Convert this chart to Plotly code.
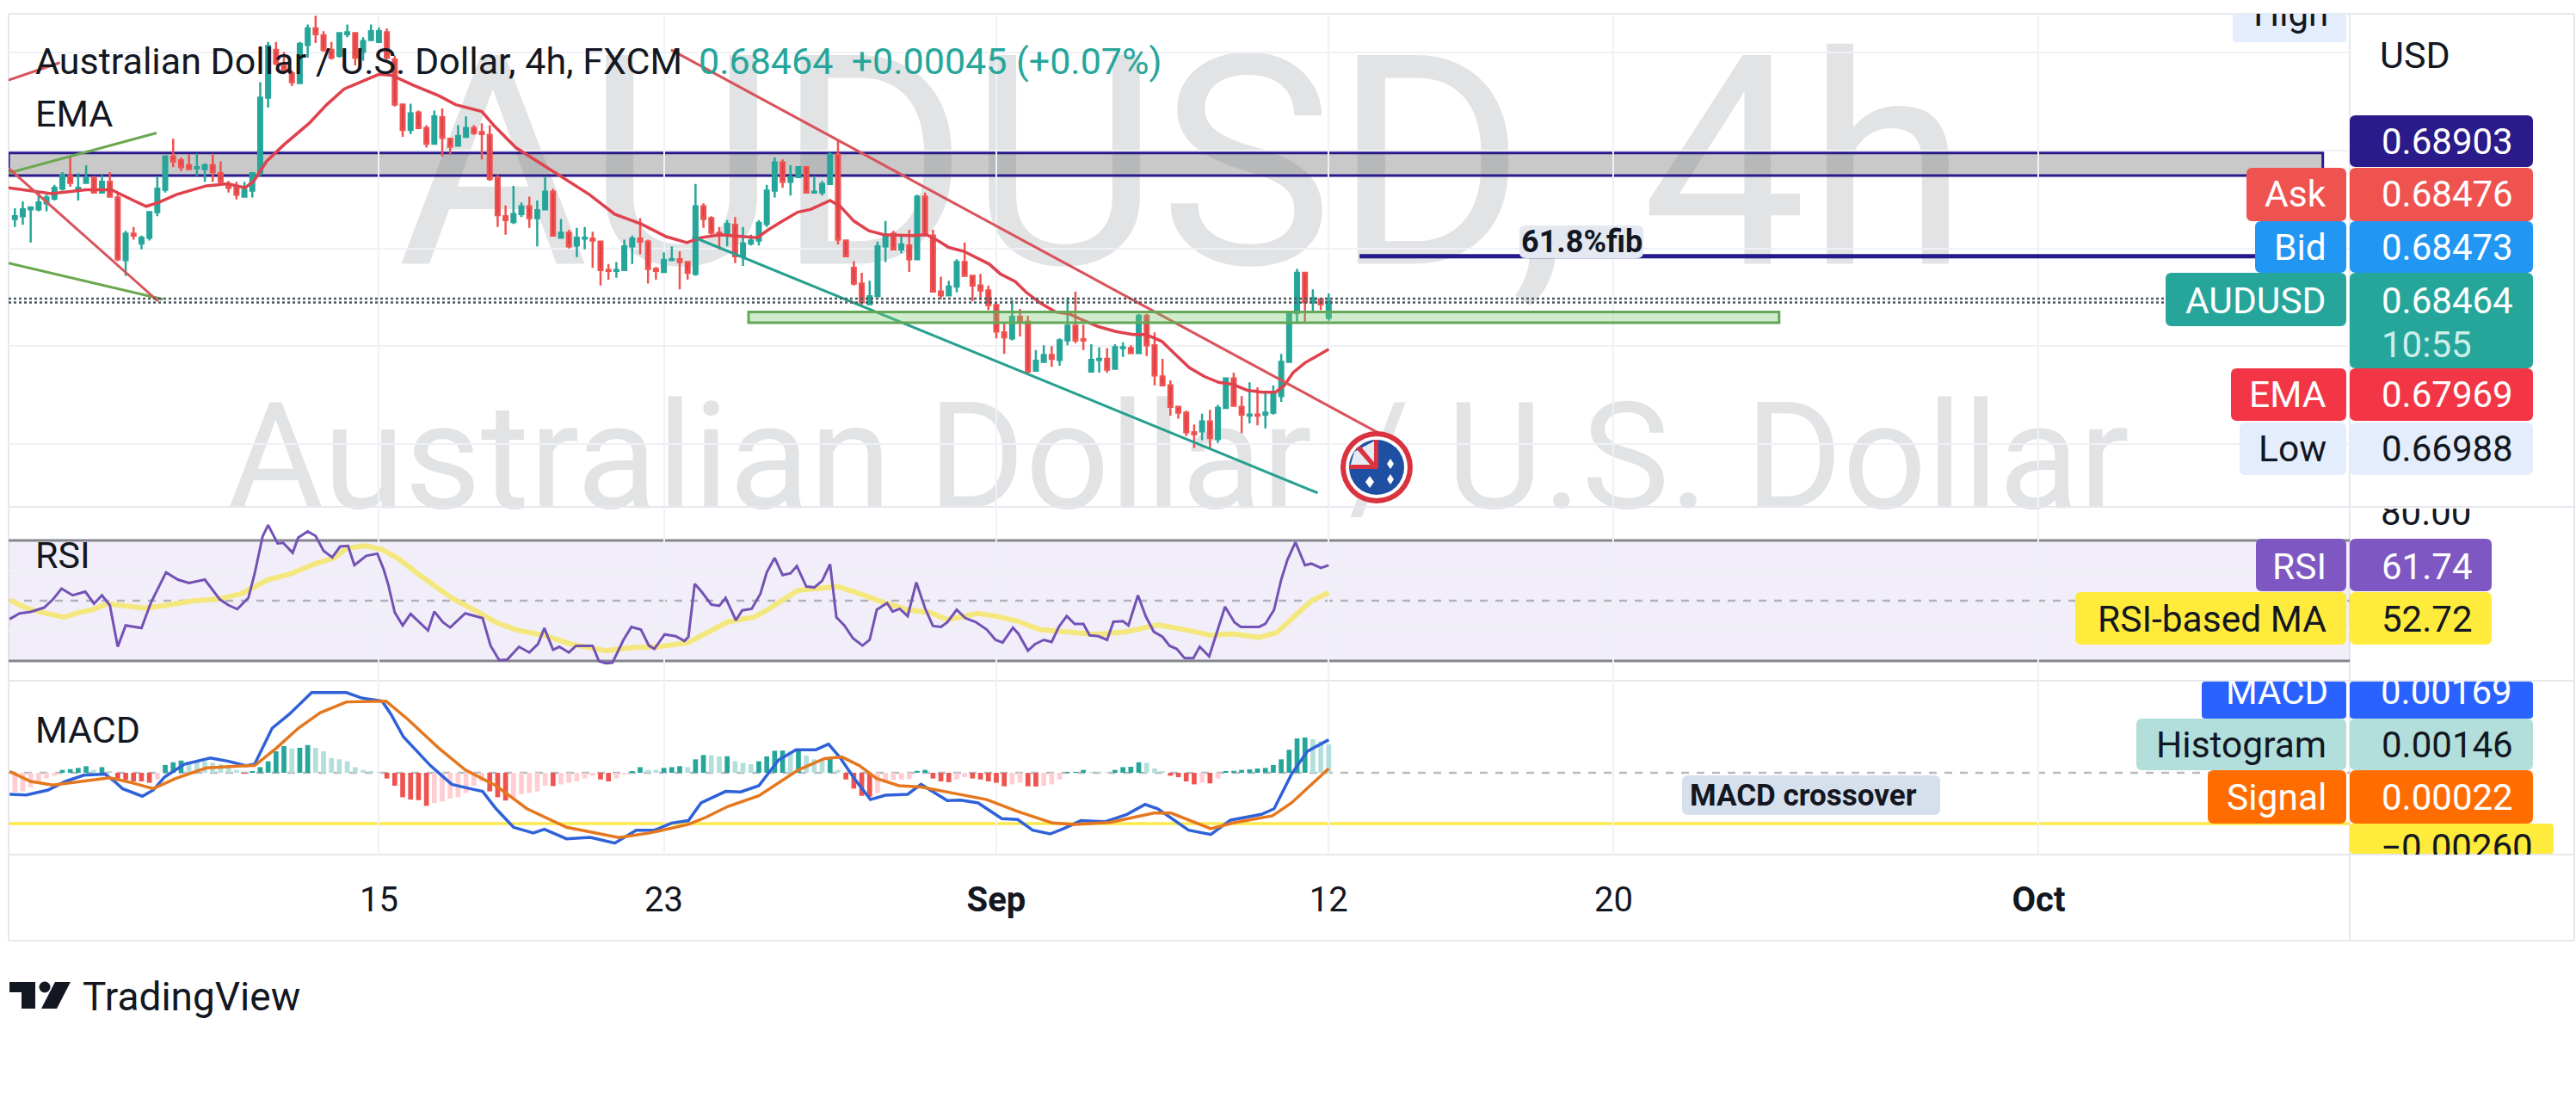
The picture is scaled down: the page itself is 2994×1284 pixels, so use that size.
import plotly.graph_objects as go

W, H = 2994, 1284

# --- price data, in units of 0.0001 ---
high_p = [6941,6948,6943,6957,6955,6965,6978,6993,6977,6985,6974,6975,6978,6957,6918,6922,6913,6938,6974,6995,
7012,6993,6996,6997,6987,6997,6989,6969,6968,6968,6978,7070,7111,7111,7101,7082,7111,7129,7138,7122,
7111,7121,7129,7121,7116,7129,7126,7125,7097,7048,7048,7041,7026,7041,7043,7013,7026,7035,7026,7028,
7026,6975,6944,6964,6947,6953,6949,6973,6961,6930,6919,6921,6922,6917,6908,6884,6886,6909,6913,6931,
6909,6881,6896,6902,6897,6887,6966,6946,6933,6922,6929,6932,6922,6914,6929,6965,6993,6991,6985,6984,
6984,6974,6969,6998,7011,6909,6887,6875,6867,6907,6928,6918,6912,6919,6955,6957,6919,6871,6867,6889,
6906,6872,6874,6862,6845,6823,6847,6838,6831,6796,6801,6800,6808,6850,6856,6822,6802,6799,6798,6802,
6804,6801,6833,6833,6814,6787,6765,6738,6734,6720,6731,6735,6740,6768,6773,6749,6763,6758,6754,6760,
6792,6835,6879,6876,6858,6849,6854]
low_p = [6922,6924,6906,6938,6938,6949,6959,6963,6949,6966,6956,6956,6952,6887,6872,6909,6899,6908,6933,6957,
6983,6979,6980,6974,6968,6968,6965,6957,6950,6952,6952,6974,7044,7087,7078,7066,7068,7095,7110,7101,
7093,7095,7116,7087,7092,7112,7110,7093,7045,7014,7017,7022,7003,7006,6994,6996,7004,7013,7016,6991,
6969,6922,6914,6925,6932,6921,6902,6939,6912,6910,6900,6891,6899,6880,6862,6868,6870,6877,6884,6894,
6864,6868,6875,6888,6858,6868,6872,6921,6914,6899,6902,6885,6882,6903,6903,6922,6952,6962,6954,6972,
6957,6956,6954,6965,6904,6891,6862,6842,6842,6851,6886,6899,6895,6876,6888,6913,6855,6848,6852,6855,
6871,6846,6847,6837,6808,6792,6806,6810,6771,6774,6784,6779,6780,6801,6803,6796,6774,6773,6773,6776,
6789,6792,6792,6790,6760,6760,6729,6726,6708,6696,6704,6696,6701,6737,6738,6711,6721,6719,6716,6730,
6743,6783,6823,6825,6834,6837,6826]
open_p = [6930,6933,6940,6940,6946,6951,6961,6974,6960,6967,6972,6957,6968,6952,6888,6915,6905,6911,6937,6960,
6994,6990,6985,6982,6981,6985,6977,6965,6963,6953,6959,6977,7054,7103,7088,7079,7069,7108,7125,7118,
7103,7097,7119,7120,7101,7113,7111,7121,7093,7047,7021,7039,7023,7007,7034,7012,7005,7014,7023,7019,
7016,6972,6933,6927,6935,6943,6931,6940,6958,6911,6916,6903,6910,6910,6907,6878,6877,6878,6902,6910,
6907,6879,6876,6888,6889,6886,6874,6943,6931,6916,6914,6924,6892,6905,6908,6925,6959,6988,6968,6973,
6983,6957,6957,6966,6996,6908,6880,6864,6843,6851,6902,6915,6899,6903,6889,6953,6913,6856,6852,6861,
6886,6872,6862,6857,6842,6814,6808,6830,6825,6775,6784,6791,6786,6806,6821,6807,6774,6786,6787,6777,
6798,6798,6793,6831,6801,6769,6760,6738,6732,6712,6713,6723,6705,6737,6767,6738,6729,6730,6730,6732,
6749,6784,6834,6875,6845,6848,6829]
close_p = [6933,6940,6942,6947,6952,6962,6975,6967,6962,6972,6957,6968,6953,6889,6915,6913,6911,6937,6961,6994,
6989,6983,6981,6983,6985,6978,6968,6962,6955,6960,6977,7054,7107,7089,7082,7070,7109,7125,7119,7103,
7095,7120,7121,7095,7112,7122,7122,7095,7047,7021,7038,7023,7007,7035,7013,7004,7015,7023,7018,7017,
6971,6934,6929,6935,6943,6931,6939,6958,6913,6916,6902,6911,6911,6908,6878,6877,6878,6902,6910,6907,
6879,6877,6888,6889,6886,6875,6943,6930,6916,6913,6925,6892,6905,6908,6926,6959,6988,6968,6973,6983,
6957,6958,6966,6996,6909,6892,6864,6845,6851,6902,6914,6899,6904,6889,6953,6914,6856,6852,6861,6886,
6872,6862,6857,6842,6815,6809,6830,6825,6774,6785,6791,6787,6806,6821,6806,6806,6786,6787,6776,6799,
6799,6793,6831,6801,6770,6760,6738,6732,6712,6710,6723,6706,6737,6767,6739,6730,6730,6729,6732,6751,
6784,6834,6875,6845,6849,6843,6846]

# --- EMA (bar position, price in 0.0001) ---
ema_bar = [-0.8,4.6,9,12.2,15,16.6,18.2,20.4,24.2,26.9,29.1,30.2,31.8,34,37.2,39.4,41.6,46,47.6,50.3,53.6,55.7,59,60.6,63.3,66.6,69.3,72.6,75.8,79.1,82.3,84.9,86.7,89.1,93.8,95.2,97,98.9,100.6,103,104.3,106,107.9,109.8,113.3,115.2,116.6,118,119.9,121.7,123.1,124.5,126.4,127.8,129.6,131.5,133.2,135.1,136.9,139.1,141.3,142.9,144.9,146.7,148.4,150.3,152.1,153.9,155.7,157.6,159.3,160.4,161.5,163,164.7,166]
ema_val = [6962,6956,6960,6960,6949,6943,6947,6955,6964,6966,6962,6969,6989,7006,7028,7047,7063,7078,7077,7067,7056,7047,7040,7025,7003,6986,6972,6955,6935,6925,6912,6906,6911,6914,6911,6919,6928,6937,6940,6949,6943,6928,6918,6914,6913,6914,6908,6901,6897,6890,6884,6874,6866,6855,6844,6835,6833,6826,6820,6815,6812,6812,6805,6791,6778,6769,6763,6761,6755,6753,6753,6760,6773,6783,6791,6797]

# --- RSI ---
rsi_bar = [-0.66,0.6,2,3.7,4.8,5.9,7.3,8.9,10,11,12,13,14,16,17.2,19.1,20.6,22,24,25.9,27,28.1,29.5,30.3,31.3,32,33.2,33.9,35.1,35.8,37,38,39,40.1,41.1,42.1,42.9,44.4,45.8,46.6,47.2,48,49,50,52.2,53,54.1,55,56.9,59.1,60.1,61.2,62.2,63.7,65,66.1,66.9,68,68.8,70,70.9,73,73.8,74.7,75.5,76.9,77.9,79.1,80.1,80.8,82.1,83.5,84.6,85.1,85.9,86.7,88,89,89.8,91.1,91.9,93.1,94.2,95,96,97,98,98.8,100,101,102,103,103.8,104.8,105.9,107.1,108,108.9,110.2,110.9,111.8,112.8,113.9,115,116,117,117.8,119,120.1,121.4,122.8,123.9,124.8,126.1,126.8,128,128.9,130,131,131.9,132.9,133.9,135,135.8,136.9,138,138.8,140,140.7,141.9,142.9,143.9,145,145.9,146.8,147.8,148.9,149.7,150.9,152.9,154.1,154.9,157.2,158,159.1,160,160.8,161.8,163,163.8,165,166]
rsi_val = [43.9,45.8,46.3,47.7,50.4,54,51.8,53,49,51.8,48.5,34.7,41.8,40.9,49.4,59.4,57,55.9,57,50.4,48.5,47.2,50.9,59,71.3,75.1,69,69.2,65.9,70.9,73,71.5,66.6,64.4,68,68.2,61.8,64.9,65.6,60.4,55.1,46.1,41.8,45.6,40.1,46.4,42.8,41.1,45.8,44.2,35.1,30.2,30.4,34.7,32.8,35.6,40.9,33.7,34.7,32.8,35,35,29.9,29.2,29.4,37,41.3,40.4,35.1,34,38.8,38.2,36.6,38,55.6,53.2,48.7,48.3,50.9,43.5,46.8,47.3,52.3,59.4,64.2,58.5,59.1,61.5,54.7,54.4,56.6,62.1,44.5,41.8,37.5,35.1,37,47,49.2,46.4,47.3,44.9,56.1,47.5,41.6,41.3,42.8,47,44.2,42.9,40.4,37,36.1,41,39,33.4,35.6,37,36.3,41.3,44.9,42.3,42.3,38.5,38.2,37,43,43.2,41.8,51.8,44.7,39.7,38,35,34,30.9,30.9,34.7,31.5,48,42.8,41.3,41.3,42.3,47,57,63.7,69.4,61.8,62.3,60.9,61.74]
rsima_bar = [-0.66,1.45,3.4,6.2,8.1,9.8,11.7,13.9,16.4,19.2,22.5,25.9,28.6,32,34.7,38,40.3,41.9,44.2,46.4,48.6,51.4,55.2,58.6,60.8,63.6,66.9,70.2,74.7,78,81.3,85.1,87.9,90.1,93.4,95.1,98.9,101.2,104,107.3,110,112.8,115.6,117.8,121.7,123.9,126.7,129.5,132.8,136.7,140.5,144.4,147.8,151.1,153.9,157.2,159.4,161.9,163.8,166]
rsima_val = [50.2,47.5,46.1,44.5,46.1,47,49,48.3,47.5,48.5,49.9,50.6,52.3,57,58.8,62.3,64.2,67.3,68.3,67,63.7,58,50.9,46.1,42.8,40.1,38.5,35.6,33.4,34.4,34.7,36.1,39.9,43,44.5,47,53.4,54,54.7,51.8,49.2,47,46.1,43.7,45.8,44.9,43.2,40.4,39.7,38.8,39.7,42,40.4,38.5,39,37.8,39.4,45.6,49.9,52.72]

# --- MACD, in units of 0.00001 ---
macd_bar = [-0.66,1.45,4.2,6.4,8.7,11.4,12.6,13.6,16.1,17.5,18.9,21.4,24.7,27,29.2,30.3,32.5,34.7,37.5,39.4,41.9,43.9,46.4,47.5,49.1,52.5,55.2,57.5,59.1,60.8,63,65.5,66.9,69.7,72.7,75.8,78.5,80.8,83,85.1,86.7,89.8,91.7,94,96.5,98.7,101.2,102.8,104.2,106.2,108.1,110,112.8,114.5,117.8,119.5,121.7,124.7,126.7,128.6,130.8,132.5,134.7,137.8,140.5,142.8,144.4,148.3,151.1,153.6,157.5,159.1,161.3,163.3,166]
macd_val = [-110,-113,-88,-44,-12,-7,-44,-81,-120,-88,-22,44,76,59,37,44,228,301,411,411,411,382,367,301,184,37,-59,-81,-95,-184,-279,-308,-289,-338,-331,-360,-294,-294,-257,-245,-154,-95,-98,-66,66,118,118,147,81,-37,-137,-115,-110,-59,-142,-140,-154,-235,-239,-294,-313,-286,-245,-250,-213,-162,-184,-294,-316,-242,-213,-184,-7,110,169]
signal_bar = [-0.66,2,4.8,8.1,12,14.8,17.5,20.3,24.2,28.1,30.3,33,35.8,38.6,41.9,46.9,49.7,53.6,56.9,60.8,64.7,69.7,76.3,80.2,85.1,87.3,90.1,94,96.2,99,102.3,104.5,106.7,108.9,111.7,114.5,118.4,122.8,126.7,131.1,133.9,138.3,143.9,146.1,151.1,153.9,158.9,161.3,166]
signal_val = [7,-44,-63,-44,-25,-51,-81,-29,25,34,37,125,228,308,363,367,272,125,15,-66,-184,-279,-331,-308,-264,-228,-172,-118,-59,15,73,81,37,-29,-66,-73,-103,-137,-198,-257,-264,-254,-206,-206,-286,-257,-220,-154,22]
hist_val = [-98,-95,-73,-51,-29,-15,15,19,25,34,15,29,7,-29,-37,-44,-44,-51,-34,40,54,63,59,59,59,51,44,29,15,-4,7,29,59,110,137,125,128,142,128,110,76,69,59,29,15,7,1,-29,-66,-125,-137,-140,-169,-154,-147,-132,-125,-103,-66,-44,-95,-125,-142,-125,-110,-103,-95,-66,-68,-59,-51,-44,-29,-15,-34,-44,-29,-7,7,29,15,15,25,29,34,29,69,91,90,84,85,59,51,44,59,84,113,114,110,111,88,69,68,81,15,-34,-81,-118,-122,-103,-51,-37,-34,-33,10,15,-29,-44,-48,-34,-22,-29,-34,-44,-51,-69,-59,-51,-69,-70,-66,-59,-34,3,4,15,4,2,1,15,29,31,54,51,22,7,-15,-22,-44,-59,-51,-54,-29,7,10,15,18,22,25,40,69,118,176,181,172,162,146]

tick_bars = [46, 82, 124, 166, 202, 255.7]
tick_text = ["15", "23", "<b>Sep</b>", "12", "20", "<b>Oct</b>"]

price_ticks = [0.67, 0.68, 0.69, 0.70, 0.71]
rsi_ticks = [40, 60]
band_zone = (0.69745, 0.69975)
demand_zone = (0.68240, 0.68350)
fib_level = 0.6892
last_price = 0.68464

trendlines = [  # (bar0, price0, bar1, price1, colour)
    (82.9, 0.7103, 172.6, 0.6710, "#d9545a"),
    (85.6, 0.6912, 164.6, 0.6650, "#26a08f"),
    (-0.8, 0.6977, 17.9, 0.7018, "#6aa84f"),
    (-0.8, 0.6885, 18.7, 0.6848, "#6aa84f"),
    (-0.8, 0.6982, 18.1, 0.6846, "#d9545a"),
    (-0.8, 0.7072, 5.7, 0.7090, "#d9545a"),
]

FONT = "Roboto"
DARK = "#131722"
GREEN, RED = "#26a69a", "#ef5350"
HDARK, HLIGHT, LRED, DRED = "#26a69a", "#b2dfdb", "#ffcdd2", "#ef5350"


def px(x):
    return x / W


def py(y):
    return 1 - y / H


# axis geometry in page pixels
PANE_L, PANE_R, COL_R = 10, 2731, 2992
P1T, P1B, P2T, P2B, P3T, P3B, AXB = 16, 589, 591, 791, 791, 993, 1093
XR = [-0.79, 295.0]
PR = [0.66357, 0.71399]
RR = [23.43, 80.57]
MR = [-0.004186, 0.004715]

bars = list(range(len(close_p)))
hist = [v / 1e5 for v in hist_val]
hist_colors = []
for i, v in enumerate(hist_val):
    prev = hist_val[i - 1] if i else v - 1
    if v >= 0:
        hist_colors.append(HDARK if prev < v else HLIGHT)
    else:
        hist_colors.append(LRED if prev < v else DRED)

fig = go.Figure()

fig.add_trace(go.Bar(x=bars, y=hist, marker=dict(color=hist_colors, line=dict(width=0)), width=0.62,
                     xaxis="x", yaxis="y3", hoverinfo="skip"))

fig.add_trace(go.Candlestick(
    x=bars,
    open=[v / 1e4 for v in open_p], high=[v / 1e4 for v in high_p],
    low=[v / 1e4 for v in low_p], close=[v / 1e4 for v in close_p],
    increasing=dict(line=dict(color=GREEN, width=2.5), fillcolor=GREEN),
    decreasing=dict(line=dict(color=RED, width=2.5), fillcolor="#dd3f4a"),
    whiskerwidth=0, xaxis="x", yaxis="y", hoverinfo="skip"))

fig.add_trace(go.Scatter(x=ema_bar, y=[v / 1e4 for v in ema_val], mode="lines",
                         line=dict(color="#e0424d", width=3.5), xaxis="x", yaxis="y", hoverinfo="skip"))

for b0, p0, b1, p1, col in trendlines:
    fig.add_trace(go.Scatter(x=[b0, b1], y=[p0, p1], mode="lines", line=dict(color=col, width=3),
                             xaxis="x", yaxis="y", hoverinfo="skip"))

fig.add_trace(go.Scatter(x=rsima_bar, y=rsima_val, mode="lines", line=dict(color="#f4e77e", width=6),
                         xaxis="x", yaxis="y2", hoverinfo="skip"))
fig.add_trace(go.Scatter(x=rsi_bar, y=rsi_val, mode="lines", line=dict(color="#7352b5", width=3),
                         xaxis="x", yaxis="y2", hoverinfo="skip"))
fig.add_trace(go.Scatter(x=macd_bar, y=[v / 1e5 for v in macd_val], mode="lines",
                         line=dict(color="#2f62d8", width=3.5), xaxis="x", yaxis="y3", hoverinfo="skip"))
fig.add_trace(go.Scatter(x=signal_bar, y=[v / 1e5 for v in signal_val], mode="lines",
                         line=dict(color="#e5771e", width=3.5), xaxis="x", yaxis="y3", hoverinfo="skip"))


# clipped texts (they are cut by the pane edge in the original)
def clipped(text, x, y, xa, ya, pos, color=DARK):
    fig.add_trace(go.Scatter(x=[x], y=[y], mode="text", text=[text], textposition=pos, cliponaxis=True,
                             textfont=dict(family=FONT, size=42, color=color),
                             xaxis=xa, yaxis=ya, hoverinfo="skip"))


LBL_X = 292.3  # right edge of the side tags in bar units
VAL_X = 0.1379
clipped("High", LBL_X, 0.71372, "x", "y", "middle left")
clipped("MACD", LBL_X, 0.0040, "x", "y3", "middle left", "white")
clipped("80.00", VAL_X, 78.2, "x2", "y5", "middle right")
clipped("0.00169", VAL_X, 0.0040, "x2", "y6", "middle right", "white")
clipped("\u22120.00260", VAL_X, -0.00397, "x2", "y6", "middle right")

shapes = []


def wm(text, x0, x1, y0, y1, size):
    shapes.append(dict(type="rect", xref="paper", yref="paper", x0=px(x0), x1=px(x1), y0=py(y1), y1=py(y0),
                       layer="below", line=dict(width=0), fillcolor="rgba(0,0,0,0)",
                       label=dict(text=text, textposition="middle center",
                                  font=dict(family=FONT, size=size, color="#e1e3e5"))))


wm("AUDUSD, 4h", 466, 2283, 30, 300, 341)
wm("Australian Dollar / U.S. Dollar", 267, 2472, 454, 584, 172)


def pline(x0, y0, x1, y1, col="#e6e8ee", w=2):
    shapes.append(dict(type="line", xref="paper", yref="paper", x0=px(x0), x1=px(x1), y0=py(y0), y1=py(y1),
                       layer="below", line=dict(color=col, width=w)))


for yy in (P1T, P1B, P2B, P3B, AXB):
    pline(PANE_L, yy, COL_R, yy)
for xx in (PANE_L, PANE_R, COL_R):
    pline(xx, P1T, xx, AXB)

# RSI band
shapes.append(dict(type="rect", xref="x", yref="y2", x0=XR[0], x1=XR[1], y0=30, y1=70, layer="below",
                   fillcolor="rgba(126,87,194,0.10)", line=dict(width=0)))
for lv in (30, 70):
    shapes.append(dict(type="line", xref="x", yref="y2", x0=XR[0], x1=XR[1], y0=lv, y1=lv, layer="below",
                       line=dict(color="#85878e", width=3)))
shapes.append(dict(type="line", xref="x", yref="y2", x0=XR[0], x1=XR[1], y0=50, y1=50, layer="below",
                   line=dict(color="#b0b2b8", width=2.5, dash="dash")))
# MACD zero + yellow level
shapes.append(dict(type="line", xref="x", yref="y3", x0=XR[0], x1=XR[1], y0=0, y1=0, layer="below",
                   line=dict(color="#b8bac0", width=2.5, dash="dash")))
shapes.append(dict(type="line", xref="x", yref="y3", x0=XR[0], x1=XR[1], y0=-0.0026, y1=-0.0026, layer="below",
                   line=dict(color="#fbe94e", width=3.5)))
# resistance band
shapes.append(dict(type="rect", xref="x", yref="y", x0=XR[0], x1=291.6, y0=band_zone[0], y1=band_zone[1], layer="below",
                   fillcolor="rgba(120,120,120,0.40)", line=dict(color="#2a1a8c", width=3)))
# last price dotted lines
for lv in (last_price + 0.00022, last_price - 0.00018):
    shapes.append(dict(type="line", xref="x", yref="y", x0=XR[0], x1=272, y0=lv, y1=lv, layer="above",
                       line=dict(color="#4c5a60", width=2.5, dash="dot")))
# demand zone
shapes.append(dict(type="rect", xref="x", yref="y", x0=92.7, x1=222.9, y0=demand_zone[0], y1=demand_zone[1], layer="above",
                   fillcolor="rgba(120,200,110,0.35)", line=dict(color="#62a856", width=3)))
# 61.8 fib
shapes.append(dict(type="line", xref="x", yref="y", x0=169.9, x1=285, y0=fib_level, y1=fib_level, layer="above",
                   line=dict(color="#241a8c", width=5)))


def rbox(x0, y0, x1, y1, fill, layer="above", r=7):
    a, b = px(x0), px(x1)
    rx, ry = r / W, r / H
    t, u = py(y0), py(y1)
    path = (f"M{a+rx},{u} L{b-rx},{u} Q{b},{u} {b},{u+ry} L{b},{t-ry} Q{b},{t} {b-rx},{t} L{a+rx},{t} "
            f"Q{a},{t} {a},{t-ry} L{a},{u+ry} Q{a},{u} {a+rx},{u} Z")
    shapes.append(dict(type="path", xref="paper", yref="paper", path=path, fillcolor=fill, line=dict(width=0), layer=layer))


ann = []


def text(t, x, y, size=42.5, color=DARK, anchor="left", weight=None):
    s = f"<b>{t}</b>" if weight else t
    ann.append(dict(text=s, x=px(x), y=py(y), xref="paper", yref="paper", showarrow=False, xanchor=anchor, yanchor="middle",
                    font=dict(family=FONT, size=size, color=color), borderpad=0))


LR, VL = 2705, 2767
AX = PANE_R
VAL_R = 2944
tags = [  # (label, left edge, top, bottom, colour, value, text colour)
    ("Ask", 2611, 195, 257, "#ef5350", "0.68476", "white"),
    ("Bid", 2621, 257, 317, "#2196f3", "0.68473", "white"),
    ("EMA", 2593, 428, 489, "#f23645", "0.67969", "white"),
    ("Low", 2603, 491, 552, "#e3edfb", "0.66988", DARK),
    ("Histogram", 2483, 835, 895, "#b2dfdb", "0.00146", DARK),
    ("Signal", 2566, 895, 957, "#ff6d00", "0.00022", "white"),
]
for lab, lft, t0, t1, col, val, tc in tags:
    rbox(lft, t0, AX - 4, t1, col)
    rbox(AX, t0, VAL_R, t1, col)
    text(lab, LR, (t0 + t1) / 2, color=tc, anchor="right")
    text(val, VL, (t0 + t1) / 2, color=tc, size=42)

rbox(AX, 134, VAL_R, 194, "#2a1a8a")
text("0.68903", VL, 165, color="white", size=42)
rbox(2517, 317, AX - 4, 379, "#26a69a")
rbox(AX, 317, VAL_R, 428, "#26a69a")
text("AUDUSD", LR, 349, color="white", anchor="right")
text("0.68464", VL, 349, color="white", size=42)
text("10:55", VL, 400, color="#cdeee9", size=42)
rbox(2595, 16, AX - 4, 49, "#e3edfb", layer="below", r=4)
rbox(2622, 626, AX - 4, 687, "#7e57c2")
rbox(AX, 626, 2896, 687, "#7e57c2")
text("RSI", LR, 658, color="white", anchor="right")
text("61.74", VL, 658, color="white", size=42)
rbox(2412, 688, AX - 4, 749, "#ffeb3b")
rbox(AX, 688, 2896, 749, "#ffeb3b")
text("RSI-based MA", LR, 720, anchor="right")
text("52.72", VL, 720, size=42)
rbox(2559, 792, AX - 4, 835, "#2962ff", layer="below", r=4)
rbox(AX, 792, VAL_R, 835, "#2962ff", layer="below", r=4)
rbox(AX, 957, 2968, 992, "#ffeb3b", layer="below", r=4)

text("USD", 2765, 64, size=43)
text("Australian Dollar / U.S. Dollar, 4h, FXCM", 40, 71, size=43)
text("0.68464&nbsp;&nbsp;+0.00045 (+0.07%)", 811, 71, color=GREEN, size=43)
text("EMA", 40, 132, size=43)
text("RSI", 40, 645, size=43)
text("MACD", 40, 848, size=43)
rbox(1766, 262, 1910, 300, "#e3e8f1")
text("61.8%fib", 1838, 281, size=36, anchor="center", weight=True)
rbox(1955, 901, 2255, 947, "#d6dfec")
text("MACD crossover", 2096, 924, size=35, anchor="center", weight=True)
text("TradingView", 95, 1158, size=46)


def poly(points, fill):
    path = "M" + " L".join(f"{px(a)},{py(b)}" for a, b in points) + " Z"
    shapes.append(dict(type="path", xref="paper", yref="paper", path=path, fillcolor=fill, line=dict(width=0), layer="above"))


def circ(cx, cy, r, fill):
    shapes.append(dict(type="circle", xref="paper", yref="paper", x0=px(cx - r), x1=px(cx + r), y0=py(cy + r), y1=py(cy - r),
                       fillcolor=fill, line=dict(width=0), layer="above"))


# TradingView mark
poly([(11, 1141), (41, 1141), (41, 1172), (25, 1172), (25, 1153), (11, 1153)], DARK)
circ(52, 1147, 6.5, DARK)
poly([(64, 1141), (82, 1141), (66, 1172), (48, 1172)], DARK)

# flag badge
FX, FY = 1600, 543
circ(FX, FY, 42, "#d8333f")
circ(FX, FY, 36, "white")
circ(FX, FY, 32, "#1e4fa3")
poly([(FX - 26, FY - 18), (FX, FY - 32), (FX, FY), (FX - 31, FY)], "#e8eaf2")
poly([(FX - 24, FY - 22), (FX - 19, FY - 25), (FX + 1, FY - 1), (FX - 3, FY + 2)], "#d8333f")
poly([(FX - 3, FY - 32), (FX + 2, FY - 32), (FX + 2, FY + 1), (FX - 3, FY + 1)], "#d8333f")
poly([(FX - 31, FY - 3), (FX + 1, FY - 3), (FX + 1, FY + 2), (FX - 31, FY + 2)], "#d8333f")
poly([(FX - 8, FY + 10), (FX - 3, FY + 17), (FX - 8, FY + 24), (FX - 13, FY + 17)], "white")
poly([(FX + 16, FY - 10), (FX + 20, FY - 4), (FX + 16, FY + 2), (FX + 12, FY - 4)], "white")
poly([(FX + 16, FY + 8), (FX + 20, FY + 14), (FX + 16, FY + 20), (FX + 12, FY + 14)], "white")

GRID = "#eff1f6"
fig.update_layout(
    width=W, height=H, margin=dict(l=0, r=0, t=0, b=0),
    paper_bgcolor="white", plot_bgcolor="rgba(0,0,0,0)",
    showlegend=False, hovermode=False, barmode="overlay",
    font=dict(family=FONT, color=DARK),
    shapes=shapes, annotations=ann,
    xaxis=dict(domain=[px(PANE_L), px(PANE_R)], range=XR, anchor="y3", tickmode="array", tickvals=tick_bars, ticktext=tick_text,
               showgrid=True, gridcolor=GRID, gridwidth=2, zeroline=False, showline=False, ticks="",
               tickfont=dict(family=FONT, size=40, color=DARK), ticklabelstandoff=25, rangeslider=dict(visible=False)),
    xaxis2=dict(domain=[px(PANE_R), px(COL_R)], range=[0, 1], anchor="y4", visible=False),
    yaxis=dict(domain=[py(P1B), py(P1T)], range=PR, anchor="x", tickvals=price_ticks, showticklabels=False,
               showgrid=True, gridcolor=GRID, gridwidth=2, zeroline=False),
    yaxis2=dict(domain=[py(P2B), py(P2T)], range=RR, anchor="x", tickvals=rsi_ticks, showticklabels=False,
                showgrid=True, gridcolor=GRID, gridwidth=2, zeroline=False),
    yaxis3=dict(domain=[py(P3B), py(P3T)], range=MR, anchor="x", showticklabels=False, showgrid=False, zeroline=False),
    yaxis4=dict(domain=[py(P1B), py(P1T)], range=PR, anchor="x2", visible=False),
    yaxis5=dict(domain=[py(P2B), py(P2T)], range=RR, anchor="x2", visible=False),
    yaxis6=dict(domain=[py(P3B), py(P3T)], range=MR, anchor="x2", visible=False),
)

fig.write_html("out.html", config=dict(displayModeBar=False),
               post_script="document.body.style.margin='0';document.body.style.overflow='hidden';")
